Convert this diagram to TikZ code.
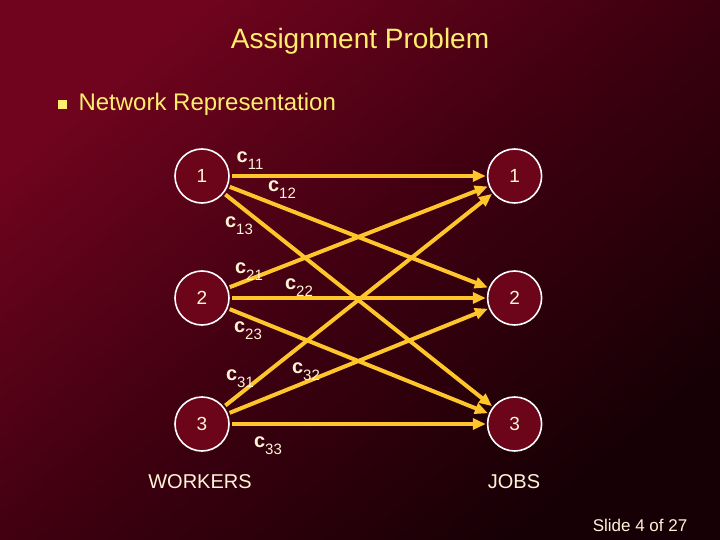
\documentclass[tikz,border=0pt]{standalone}
\usepackage{fontspec}
\setmainfont{Liberation Sans}
\usepackage{tikz}
\usetikzlibrary{positioning,arrows.meta}

\definecolor{bgA}{RGB}{112,4,30}
\definecolor{bgM}{RGB}{62,0,16}
\definecolor{bgB}{RGB}{22,0,5}
\definecolor{cream}{RGB}{255,244,214}
\definecolor{yel}{RGB}{255,238,110}
\definecolor{edge}{RGB}{255,198,44}
\definecolor{vfill}{RGB}{108,4,26}

\newcommand{\csub}[1]{\textbf{c}\raisebox{-0.35em}{\fontsize{15}{15}\selectfont #1}}

\begin{document}
\begin{tikzpicture}[
  x=1pt, y=-1pt,
  vert/.style={circle, draw=white, line width=1.6pt, fill=vfill, minimum size=54pt,
    inner sep=0pt, text=cream, font=\fontsize{19}{19}\selectfont},
  cost/.style={text=cream, font=\fontsize{20}{20}\selectfont, inner sep=0pt},
  arrow/.style={-{Triangle[length=13pt,width=11pt]}, line width=4pt, draw=edge,
    shorten <=2pt, shorten >=1pt}
]

% Background
\useasboundingbox (0,0) rectangle (720,540);
\shade[top color=bgA, bottom color=bgB, middle color=bgM, shading angle=40]
  (0,0) rectangle (720,540);

% Title and bullet
\node[text=yel, font=\fontsize{28}{28}\selectfont] (title) at (360,41) {Assignment Problem};
\fill[yel] (58,100) rectangle (67,109);
\node[text=yel, font=\fontsize{24}{24}\selectfont, anchor=west] (sub) at (75,104) {Network Representation};

% Workers
\node[vert] (w1) at (202,176) {1};
\node[vert] (w2) at (202,298) {2};
\node[vert] (w3) at (202,424) {3};

% Jobs
\node[vert, right=257pt of w1] (j1) {1};
\node[vert, right=257pt of w2] (j2) {2};
\node[vert, right=257pt of w3] (j3) {3};

% Arcs
\draw[arrow] (w1) -- (j1);
\draw[arrow] (w1) -- (j2);
\draw[arrow] (w1) -- (j3);
\draw[arrow] (w2) -- (j1);
\draw[arrow] (w2) -- (j2);
\draw[arrow] (w2) -- (j3);
\draw[arrow] (w3) -- (j1);
\draw[arrow] (w3) -- (j2);
\draw[arrow] (w3) -- (j3);

% Costs
\node[cost] (c11) at (250,161) {\csub{11}};
\node[cost] (c12) at (282,190) {\csub{12}};
\node[cost] (c13) at (239,226) {\csub{13}};
\node[cost] (c21) at (249,272) {\csub{21}};
\node[cost] (c22) at (299,288) {\csub{22}};
\node[cost] (c23) at (248,331) {\csub{23}};
\node[cost] (c31) at (240,379) {\csub{31}};
\node[cost] (c32) at (306,372) {\csub{32}};
\node[cost] (c33) at (268,446) {\csub{33}};

% Column labels
\node[text=cream, font=\fontsize{20}{20}\selectfont] (workers) at (200,482) {WORKERS};
\node[text=cream, font=\fontsize{20}{20}\selectfont] (jobs) at (514,482) {JOBS};

% Footer
\node[text=cream, font=\fontsize{17}{17}\selectfont] (slide) at (640,525) {Slide 4 of 27};

\end{tikzpicture}
\end{document}
